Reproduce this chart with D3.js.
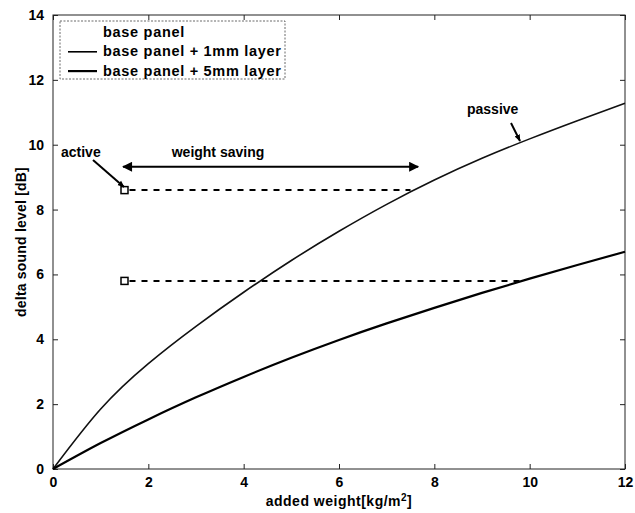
<!DOCTYPE html>
<html>
<head>
<meta charset="utf-8">
<script src="https://cdn.jsdelivr.net/npm/d3@7"></script>
<style>
  body { margin: 0; background: #fff; }
  svg { display: block; font-family: "Liberation Sans", Arial, sans-serif; font-weight: bold; }
</style>
</head>
<body>
<div id="chart"></div>
<script>
/* added weight vs delta sound level — passive layers vs active control */
const xValues   = [0, 1, 2, 3, 4, 5, 6, 7, 8, 9, 10, 11, 12];
const layer1mm  = [0, 1.85, 3.25, 4.4, 5.45, 6.43, 7.33, 8.16, 8.91, 9.58, 10.18, 10.74, 11.28];
const layer5mm  = [0, 0.8, 1.53, 2.21, 2.84, 3.43, 3.98, 4.49, 4.97, 5.43, 5.87, 6.29, 6.7];
const xTicks    = [0, 2, 4, 6, 8, 10, 12];
const yTicks    = [0, 2, 4, 6, 8, 10, 12, 14];
const legendLabels = ["base panel", "base panel + 1mm layer", "base panel + 5mm layer"];
// active points (weight, dB) and where the dashed line meets the passive curve
const activePts = [[1.5, 8.6, 7.5], [1.5, 5.8, 9.8]];
const savingArrow = [1.47, 7.66, 9.32];

const W = 635, H = 513;
const M = { left: 53, right: 10, top: 15, bottom: 44 };

const x = d3.scaleLinear().domain([0, 12]).range([M.left, W - M.right]);
const y = d3.scaleLinear().domain([0, 14]).range([H - M.bottom, M.top]);

const svg = d3.select("#chart").append("svg").attr("width", W).attr("height", H);

const defs = svg.append("defs");
defs.append("marker").attr("id", "head")
  .attr("viewBox", "0 0 10 10").attr("refX", 9).attr("refY", 5)
  .attr("markerWidth", 7).attr("markerHeight", 7).attr("orient", "auto-start-reverse")
  .attr("markerUnits", "userSpaceOnUse")
  .append("path").attr("d", "M0,1 L10,5 L0,9 Z").attr("fill", "#000");
defs.append("marker").attr("id", "headBig")
  .attr("viewBox", "0 0 10 10").attr("refX", 9).attr("refY", 5)
  .attr("markerWidth", 14).attr("markerHeight", 10).attr("orient", "auto-start-reverse")
  .attr("markerUnits", "userSpaceOnUse")
  .append("path").attr("d", "M0,0 L10,5 L0,10 Z").attr("fill", "#000");

/* frame + inward ticks, matlab style */
const x0 = x.range()[0], x1 = x.range()[1], y0 = y.range()[0], y1 = y.range()[1];
svg.append("rect").attr("x", x0).attr("y", y1).attr("width", x1 - x0).attr("height", y0 - y1)
  .attr("fill", "none").attr("stroke", "#222").attr("stroke-width", 1);

const bottom = d3.axisBottom(x).tickValues(xTicks).tickSizeInner(-5).tickSizeOuter(0).tickPadding(8);
const left = d3.axisLeft(y).tickValues(yTicks).tickSizeInner(-5).tickSizeOuter(0).tickPadding(9);
svg.append("g").attr("transform", `translate(0,${y0})`).call(bottom);
svg.append("g").attr("transform", `translate(${x0},0)`).call(left);
svg.append("g").attr("transform", `translate(0,${y1})`)
  .call(d3.axisTop(x).tickValues(xTicks).tickSizeInner(-5).tickSizeOuter(0).tickFormat(""));
svg.append("g").attr("transform", `translate(${x1},0)`)
  .call(d3.axisRight(y).tickValues(yTicks).tickSizeInner(-5).tickSizeOuter(0).tickFormat(""));
svg.selectAll(".domain").remove();
svg.selectAll(".tick line").attr("stroke", "#222");
svg.selectAll(".tick text").attr("font-size", 14).attr("font-weight", "bold").attr("fill", "#000")
  .attr("font-family", "Liberation Sans, Arial, sans-serif");

svg.append("text").attr("x", (x0 + x1) / 2).attr("y", 506).attr("text-anchor", "middle")
  .attr("font-size", 14).attr("letter-spacing", 0.5)
  .html('added weight[kg/m<tspan dy="-5" font-size="10">2</tspan><tspan dy="5">]</tspan>');
svg.append("text").attr("transform", `translate(26,${(y0 + y1) / 2}) rotate(-90)`)
  .attr("text-anchor", "middle").attr("font-size", 14).attr("letter-spacing", 0.2)
  .text("delta sound level [dB]");

/* curves */
const line = d3.line().x(d => x(d[0])).y(d => y(d[1])).curve(d3.curveNatural);
svg.append("path").datum(xValues.map((v, i) => [v, layer1mm[i]]))
  .attr("d", line).attr("fill", "none").attr("stroke", "#111").attr("stroke-width", 1.6);
svg.append("path").datum(xValues.map((v, i) => [v, layer5mm[i]]))
  .attr("d", line).attr("fill", "none").attr("stroke", "#000").attr("stroke-width", 2.2);

/* active points with dashed lines */
svg.selectAll(".act").data(activePts).join("line")
  .attr("x1", d => x(d[0]) + 5).attr("x2", d => x(d[2]))
  .attr("y1", d => y(d[1])).attr("y2", d => y(d[1]))
  .attr("stroke", "#000").attr("stroke-width", 2).attr("stroke-dasharray", "6,6");
svg.selectAll(".sq").data(activePts).join("rect")
  .attr("x", d => x(d[0]) - 3.5).attr("y", d => y(d[1]) - 3.5).attr("width", 7).attr("height", 7)
  .attr("fill", "#fff").attr("stroke", "#000").attr("stroke-width", 1.5);

/* weight saving arrow */
svg.append("line")
  .attr("x1", x(savingArrow[0])).attr("x2", x(savingArrow[1]))
  .attr("y1", y(savingArrow[2])).attr("y2", y(savingArrow[2]))
  .attr("stroke", "#000").attr("stroke-width", 2)
  .attr("marker-start", "url(#headBig)").attr("marker-end", "url(#headBig)");
svg.append("text").attr("x", 218).attr("y", 157).attr("text-anchor", "middle")
  .attr("font-size", 14).text("weight saving");

/* annotations */
svg.append("text").attr("x", 61).attr("y", 157).attr("font-size", 14).text("active");
svg.append("line").attr("x1", 93).attr("y1", 160).attr("x2", 124).attr("y2", 187)
  .attr("stroke", "#000").attr("stroke-width", 2).attr("marker-end", "url(#head)");
svg.append("text").attr("x", 467).attr("y", 114).attr("font-size", 14).text("passive");
svg.append("line").attr("x1", 511).attr("y1", 123).attr("x2", 520).attr("y2", 141)
  .attr("stroke", "#000").attr("stroke-width", 2).attr("marker-end", "url(#head)");

/* legend */
const lg = svg.append("g");
lg.append("rect").attr("x", 60).attr("y", 21).attr("width", 225).attr("height", 58)
  .attr("fill", "#fff").attr("stroke", "#444").attr("stroke-width", 0.8).attr("stroke-dasharray", "2,1.5");
legendLabels.forEach((t, i) => {
  const by = 37 + i * 19.3;
  if (i > 0) lg.append("line").attr("x1", 68).attr("x2", 97).attr("y1", by - 4.5).attr("y2", by - 4.5)
    .attr("stroke", "#000").attr("stroke-width", i === 1 ? 1.6 : 2.2);
  lg.append("text").attr("x", 103).attr("y", by).attr("font-size", 14.5).attr("letter-spacing", 0.7).text(t);
});
</script>
</body>
</html>
